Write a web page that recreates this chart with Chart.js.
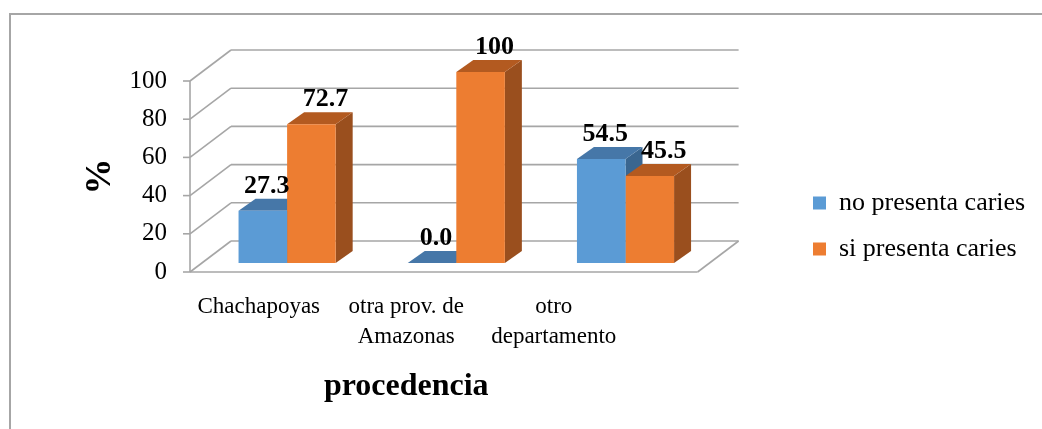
<!DOCTYPE html>
<html>
<head>
<meta charset="utf-8">
<script src="https://cdn.jsdelivr.net/npm/chart.js@4"></script>
<style>
  body { margin: 0; background: #fff; overflow: hidden; }
  #frame { position: absolute; left: 9px; top: 13px; width: 1100px; height: 500px; border: 2px solid #a6a6a6; }
  #chart { position: absolute; left: 0; top: 0; }
</style>
</head>
<body>
<div id="frame"></div>
<canvas id="chart" width="1042" height="429"></canvas>
<script>
// 3D column chart: caries por procedencia

const categories = [['Chachapoyas'], ['otra prov. de', 'Amazonas'], ['otro', 'departamento']]
const noCaries = [27.3, 0.0, 54.5]
const siCaries = [72.7, 100, 45.5]
const yTicks = [0, 20, 40, 60, 80, 100]

const serif = "'Liberation Serif', 'Times New Roman', serif"
const gridColor = '#a6a6a6'

// fake 3D offsets (pixels)
const floorDepth = { dx: 41, dy: -31 }
const barShift = { dx: 12.5, dy: -9 }
const barDepth = { dx: 17, dy: -12 }
const faceColors = [
  { top: '#4677a8', side: '#3a6690' },
  { top: '#b35a20', side: '#9a4f1e' },
]
const labelShift = [4, 14]

function line(ctx, x1, y1, x2, y2) {
  ctx.beginPath()
  ctx.moveTo(x1, y1)
  ctx.lineTo(x2, y2)
  ctx.stroke()
}

function poly(ctx, pts, color) {
  ctx.beginPath()
  ctx.moveTo(pts[0][0], pts[0][1])
  pts.slice(1).forEach((p) => ctx.lineTo(p[0], p[1]))
  ctx.closePath()
  ctx.fillStyle = color
  ctx.fill()
}

const fake3d = {
  id: 'fake3d',
  afterLayout(chart) {
    // move legend out to the right of the walls
    const lg = chart.legend
    const pad = lg.options.labels.padding
    const fs = lg.options.labels.font.size
    lg.left = 813 - pad
    lg.right = 1042
    lg.top = 203 - pad - fs / 2
    lg.bottom = 429
  },
  beforeDatasetsDraw(chart) {
    const { ctx } = chart
    const xb = chart.scales.xb
    const y = chart.scales.y
    const x0 = xb.getPixelForValue(-0.5)
    const x1 = xb.getPixelForValue(2.5)
    const { dx, dy } = floorDepth

    ctx.save()
    ctx.strokeStyle = gridColor
    ctx.lineWidth = 1.6
    yTicks.forEach((t) => {
      const py = y.getPixelForValue(t)
      line(ctx, x0 - 7, py, x0, py)
      line(ctx, x0, py, x0 + dx, py + dy)
      line(ctx, x0 + dx, py + dy, x1 + dx, py + dy)
    })
    const y0 = y.getPixelForValue(0)
    line(ctx, x0, y0, x0, y.getPixelForValue(100))
    line(ctx, x0, y0, x1, y0)
    line(ctx, x1, y0, x1 + dx, y0 + dy)

    // side and top faces of every bar, behind the front faces
    ctx.translate(barShift.dx, barShift.dy)
    chart.data.datasets.forEach((ds, di) => {
      const c = faceColors[di]
      chart.getDatasetMeta(di).data.forEach((bar) => {
        const { x, y: top, base, width } = bar.getProps(['x', 'y', 'base', 'width'], true)
        const l = x - width / 2
        const r = x + width / 2
        const bx = barDepth.dx
        const by = barDepth.dy
        poly(ctx, [[r, top], [r + bx, top + by], [r + bx, base + by], [r, base]], c.side)
        poly(ctx, [[l, top], [r, top], [r + bx, top + by], [l + bx, top + by]], c.top)
      })
    })
    ctx.restore()

    // front faces drawn by Chart.js, pushed back a little
    ctx.save()
    ctx.translate(barShift.dx, barShift.dy)
  },
  afterDatasetsDraw(chart) {
    const { ctx } = chart
    ctx.restore()

    ctx.save()
    ctx.font = 'bold 26px ' + serif
    ctx.fillStyle = '#000'
    ctx.textAlign = 'center'
    ctx.textBaseline = 'alphabetic'
    chart.data.datasets.forEach((ds, di) => {
      chart.getDatasetMeta(di).data.forEach((bar, i) => {
        const v = ds.data[i].y
        const txt = v === 100 ? '100' : v.toFixed(1)
        const px = bar.x + barShift.dx + labelShift[di]
        const py = bar.y + barShift.dy + barDepth.dy - 6
        ctx.fillText(txt, px, py)
      })
    })
    ctx.restore()
  },
}

function drawChart() {
  const data = {
    labels: categories,
    datasets: [
      {
        label: 'no presenta caries',
        data: noCaries.map((v, i) => ({ x: i, y: v })),
        backgroundColor: '#5b9bd5',
        borderColor: '#5b9bd5',
        borderWidth: 0,
        xAxisID: 'xb',
      },
      {
        label: 'si presenta caries',
        data: siCaries.map((v, i) => ({ x: i, y: v })),
        backgroundColor: '#ed7d31',
        borderColor: '#ed7d31',
        borderWidth: 0,
        xAxisID: 'xb',
      },
    ],
  }

  const config = {
    type: 'bar',
    data: data,
    options: {
      responsive: false,
      animation: false,
      devicePixelRatio: 1,
      clip: false,
      categoryPercentage: 0.574,
      barPercentage: 1,
      layout: { padding: { left: 0, top: 81, right: 205.3, bottom: 0 } },
      scales: {
        x: {
          type: 'category',
          position: 'bottom',
          offset: true,
          grid: { display: false, drawTicks: false },
          border: { display: false },
          ticks: {
            color: '#000',
            font: { family: serif, size: 23, lineHeight: 1.3 },
            padding: 20,
            maxRotation: 0,
            autoSkip: false,
          },
          title: {
            display: true,
            text: 'procedencia',
            color: '#000',
            font: { family: serif, size: 32, weight: 'bold', lineHeight: 1.2 },
            padding: { top: 0, bottom: 23 },
          },
          afterFit: (s) => { s.height = 429 - 272 },
        },
        xb: {
          type: 'linear',
          display: false,
          offset: false,
          min: -0.5296,
          max: 2.0858,
          grid: { offset: false },
          ticks: { stepSize: 1, includeBounds: false },
        },
        y: {
          min: 0,
          max: 100,
          grid: { display: false, drawTicks: false },
          border: { display: false },
          ticks: {
            stepSize: 20,
            color: '#000',
            font: { family: serif, size: 25 },
            padding: 18,
          },
          title: {
            display: true,
            text: '%',
            color: '#000',
            font: { family: serif, size: 36, weight: 'bold', lineHeight: 1.2 },
            padding: { top: 79, bottom: 0 },
          },
          afterFit: (s) => { s.width = 185 },
        },
      },
      plugins: {
        legend: {
          position: 'right',
          align: 'start',
          labels: {
            color: '#000',
            font: { family: serif, size: 26 },
            boxWidth: 13,
            boxHeight: 13,
            padding: 20,
          },
        },
        tooltip: { enabled: false },
      },
    },
    plugins: [fake3d],
  }

  const myChart = new Chart(document.getElementById('chart'), config)
}

drawChart()
</script>
</body>
</html>
